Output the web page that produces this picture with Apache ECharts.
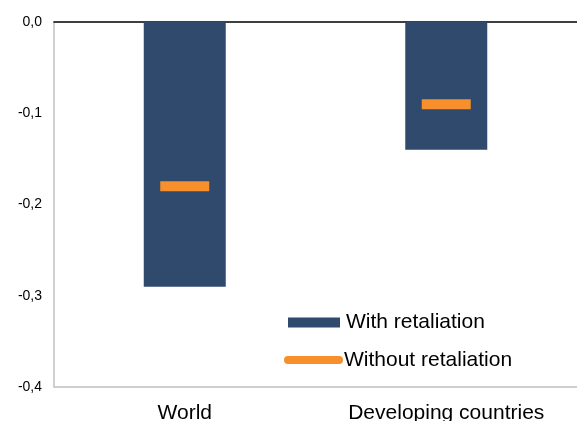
<!DOCTYPE html>
<html>
<head>
<meta charset="utf-8">
<script src="https://cdn.jsdelivr.net/npm/echarts@6/dist/echarts.min.js"></script>
<style>
  html, body { margin: 0; padding: 0; background: #fff; }
  #chart { width: 577px; height: 421px; }
</style>
</head>
<body>
<div id="chart"></div>
<script>
// Regions on the horizontal axis
const categories = ['World', 'Developing countries'];
// Change under each scenario
const withRetaliation = [-0.29, -0.14];
const withoutRetaliation = [-0.18, -0.09];
// Value axis range and step
const yMin = -0.4, yMax = 0, yStep = 0.1;

const FONT = '"Liberation Sans", Arial, sans-serif';
const NAVY = '#2f4a6c';
const ORANGE = '#f7902c';

const chart = echarts.init(document.getElementById('chart'), null, { renderer: 'canvas' });

chart.setOption({
  animation: false,
  backgroundColor: '#fff',
  grid: { left: 54, right: 0, top: 22, bottom: 34, outerBoundsMode: 'none', containLabel: false },
  legend: [
    {
      data: [{ name: 'With retaliation', icon: 'rect' }],
      left: 288, top: 311.5,
      itemWidth: 52, itemHeight: 10, itemGap: 0,
      itemStyle: { opacity: 1 },
      textStyle: { fontFamily: FONT, fontSize: 21, lineHeight: 22, color: '#000', padding: [0, 0, 0, 1] },
      padding: 0, selectedMode: false
    },
    {
      data: [{ name: 'Without retaliation',
        icon: 'path://M4,0 L55,0 A4,4 0 0 1 55,8 L4,8 A4,4 0 0 1 4,0 Z' }],
      left: 284, top: 349,
      itemWidth: 59, itemHeight: 8, itemGap: 0,
      itemStyle: { opacity: 1 },
      textStyle: { fontFamily: FONT, fontSize: 21, lineHeight: 22, color: '#000', padding: [0, 0, 0, -4] },
      padding: 0, selectedMode: false
    }
  ],
  xAxis: [
    {
      type: 'category',
      data: categories,
      position: 'bottom',
      axisLine: { onZero: false, lineStyle: { color: '#c0c0c0', width: 1.5 } },
      axisTick: { show: false },
      axisLabel: { fontFamily: FONT, fontSize: 21, lineHeight: 21, color: '#000', margin: 16 }
    },
    {
      type: 'category',
      data: categories,
      position: 'top',
      axisLine: { onZero: false, lineStyle: { color: '#000', width: 1.5 } },
      axisTick: { show: false },
      axisLabel: { show: false }
    }
  ],
  yAxis: {
    type: 'value',
    min: yMin, max: yMax, interval: yStep,
    axisLine: { show: true, lineStyle: { color: '#c0c0c0', width: 1.5 } },
    axisTick: { show: false },
    splitLine: { show: false },
    axisLabel: {
      fontFamily: FONT, fontSize: 14, color: '#000', margin: 12,
      formatter: v => v.toFixed(1).replace('.', ',')
    }
  },
  series: [
    {
      name: 'With retaliation',
      type: 'bar',
      data: withRetaliation,
      barWidth: 82,
      itemStyle: { color: NAVY }
    },
    {
      name: 'Without retaliation',
      type: 'scatter',
      data: withoutRetaliation,
      symbol: 'rect',
      symbolSize: [49, 10],
      itemStyle: { color: ORANGE, opacity: 1 },
      z: 5
    }
  ]
});
</script>
</body>
</html>
